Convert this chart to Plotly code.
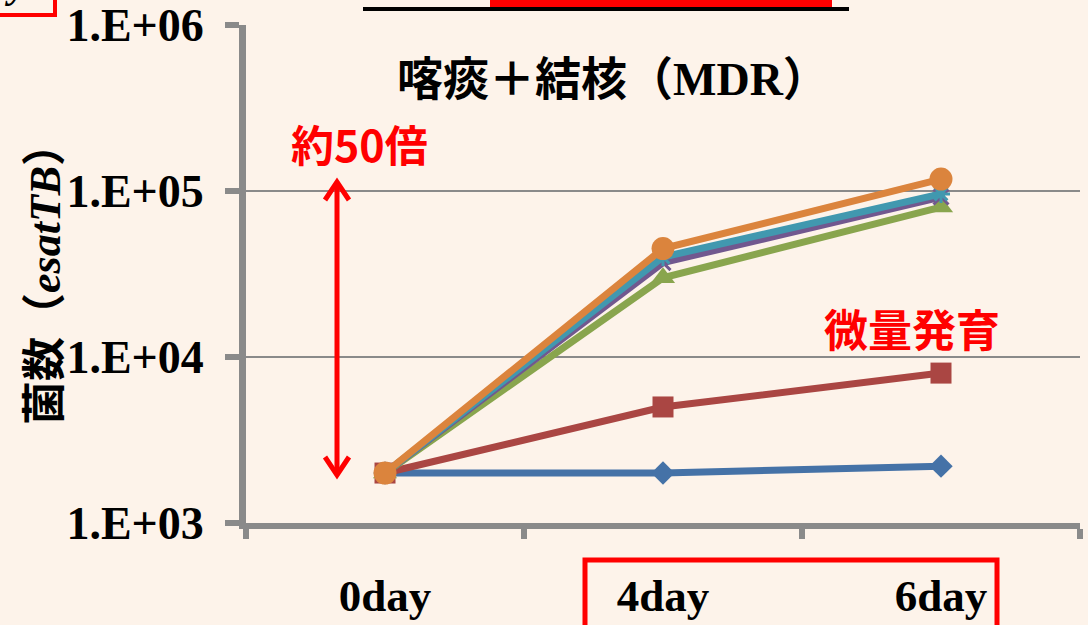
import plotly.graph_objects as go

# ---- data ----
days = ["0day", "4day", "6day"]
blue_diamond = [2000, 2000, 2200]
red_square = [2000, 5000, 8000]
green_triangle = [2000, 30000, 80000]
purple_x = [2000, 37000, 92000]
teal_star = [2000, 40000, 96000]
orange_circle = [2000, 45000, 118000]

ytick_vals = [1e3, 1e4, 1e5, 1e6]
ytick_text = ["1.E+03", "1.E+04", "1.E+05", "1.E+06"]

# ---- page geometry (pixels) ----
W, H = 1088, 625
L, R, T, B = 246, 8, 25, 102
PW, PH = W - L - R, H - T - B


def px(x):
    return (x - L) / PW


def py(y):
    return (H - B - y) / PH


BG = "#FDF3EA"
GRID = "#8A8A8A"
SERIF = "Liberation Serif"
GOTHIC = "Noto Sans CJK JP"

series = [
    (blue_diamond, "#4572A7", dict(symbol="diamond", size=18)),
    (red_square, "#AA4643", dict(symbol="square", size=21)),
    (green_triangle, "#89A54E", dict(symbol="triangle-up", size=21)),
    (purple_x, "#71588F", dict(symbol="x-thin", size=15, line=dict(width=3, color="#71588F"))),
    (teal_star, "#4198AF", dict(symbol="asterisk", size=15, line=dict(width=3, color="#4198AF"))),
    (orange_circle, "#DB843D", dict(symbol="circle", size=23)),
]

fig = go.Figure()
for vals, color, marker in series:
    marker = dict(marker)
    marker["color"] = color
    fig.add_trace(go.Scatter(
        x=days, y=vals, mode="lines+markers",
        line=dict(color=color, width=7),
        marker=marker, showlegend=False, cliponaxis=False,
    ))

fig.update_xaxes(
    type="category", range=[-0.5, 2.5], automargin=False,
    showline=True, linecolor=GRID, linewidth=6,
    ticks="outside", tickson="boundaries", ticklen=10, tickwidth=6, tickcolor=GRID,
    showgrid=False, zeroline=False,
    tickfont=dict(family=SERIF, size=45, color="black", weight="bold"),
    ticklabelstandoff=28,
)
fig.update_yaxes(
    type="log", range=[3, 6], automargin=False,
    tickvals=ytick_vals, ticktext=ytick_text,
    showline=True, linecolor=GRID, linewidth=7,
    ticks="outside", ticklen=14, tickwidth=6, tickcolor=GRID,
    showgrid=True, gridcolor=GRID, gridwidth=2, zeroline=False,
    tickfont=dict(family=SERIF, size=46, color="black", weight="bold"),
    ticklabelstandoff=12,
)

annotations = [
    # chart title
    dict(x=px(613), y=py(75),
         text=f'喀痰＋結核（<span style="font-family:{SERIF}">MDR</span>）',
         font=dict(family=GOTHIC, size=46, color="black", weight="bold")),
    # y-axis title
    dict(x=px(41), y=py(274), textangle=-90,
         text=f'菌数（<span style="font-family:{SERIF};font-style:italic">esatTB</span>）',
         font=dict(family=GOTHIC, size=44, color="black", weight="bold")),
    dict(x=px(359), y=py(143), text="約50倍",
         font=dict(family=GOTHIC, size=43, color="#FF0000", weight="bold")),
    dict(x=px(912), y=py(328), text="微量発育",
         font=dict(family=GOTHIC, size=44, color="#FF0000", weight="bold")),
    dict(x=px(16), y=py(8), yanchor="bottom",
         text='<span style="font-style:italic">y</span>',
         font=dict(family=SERIF, size=40, color="black", weight="bold")),
]
for a in annotations:
    a.update(xref="paper", yref="paper", showarrow=False)
    a.setdefault("xanchor", "center")
    a.setdefault("yanchor", "middle")

red = "#FF0000"
shapes = [
    # double-headed arrow
    dict(type="line", x0=px(337), y0=py(184), x1=px(337), y1=py(473),
         line=dict(color=red, width=5)),
    dict(type="path",
         path=f"M {px(325)},{py(200)} L {px(337)},{py(182)} L {px(349)},{py(200)}",
         line=dict(color=red, width=5)),
    dict(type="path",
         path=f"M {px(325)},{py(457)} L {px(337)},{py(475)} L {px(349)},{py(457)}",
         line=dict(color=red, width=5)),
    # box around the later days
    dict(type="rect", x0=px(585), y0=py(560), x1=px(997), y1=py(640),
         line=dict(color=red, width=5)),
    # header bars
    dict(type="rect", x0=px(490), y0=py(-5), x1=px(832), y1=py(7),
         fillcolor=red, line=dict(width=0)),
    dict(type="line", x0=px(363), y0=py(9), x1=px(849), y1=py(9),
         line=dict(color="black", width=4)),
    # corner box
    dict(type="path",
         path=f"M {px(-5)},{py(15)} L {px(55)},{py(15)} L {px(55)},{py(-5)}",
         line=dict(color=red, width=4)),
]
for s in shapes:
    s.update(xref="paper", yref="paper", layer="above")

fig.update_layout(
    width=W, height=H,
    margin=dict(l=L, r=R, t=T, b=B, autoexpand=False),
    paper_bgcolor=BG, plot_bgcolor=BG,
    annotations=annotations, shapes=shapes,
)

fig.write_html("out.html")
